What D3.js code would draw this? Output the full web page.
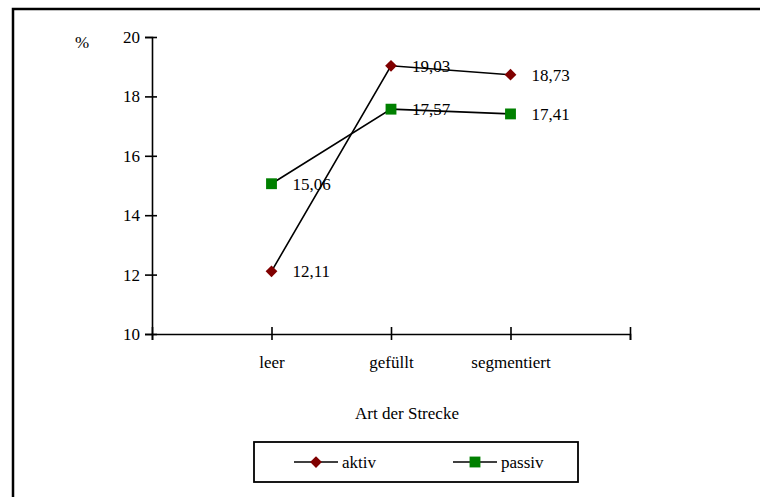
<!DOCTYPE html>
<html>
<head>
<meta charset="utf-8">
<script src="https://cdnjs.cloudflare.com/ajax/libs/d3/7.8.5/d3.min.js"></script>
<style>
  body { margin: 0; background: #fff; }
</style>
</head>
<body>
<div id="chart"></div>
<script>
// data
var categories = ["leer", "gefüllt", "segmentiert"];
var aktiv = [12.11, 19.03, 18.73];
var passiv = [15.06, 17.57, 17.41];
var yTicks = [10, 12, 14, 16, 18, 20];
var seriesNames = ["aktiv", "passiv"];

var W = 760, H = 497;
var FONT = "Liberation Serif";
var FS = "17px";

var svg = d3.select("#chart")
  .append("svg")
  .attr("width", W)
  .attr("height", H)
  .style("display", "block");

// outer frame (only left and top edges are visible)
svg.append("rect")
  .attr("x", 13)
  .attr("y", 9)
  .attr("width", 900)
  .attr("height", 700)
  .attr("fill", "none")
  .attr("stroke", "black")
  .attr("stroke-width", 2.5);

// x: categories sit on ticks 1..3, axis runs 0..4
var x = d3.scaleLinear()
  .domain([0, 4])
  .range([152, 630]);

var y = d3.scaleLinear()
  .domain([10, 20])
  .range([334, 37]);

var xAxis = d3.axisBottom(x)
  .tickValues([0, 1, 2, 3, 4])
  .tickSizeOuter(0)
  .tickSize(6)
  .tickFormat(function(d) { return categories[d - 1] || ""; });

var yAxis = d3.axisLeft(y)
  .tickValues(yTicks)
  .tickSizeOuter(0)
  .tickSize(7)
  .tickFormat(d3.format("d"));

var gx = svg.append("g")
  .attr("transform", "translate(0," + y(10) + ")")
  .call(xAxis);
gx.selectAll(".tick line").attr("y1", -7).attr("y2", 6);
gx.selectAll(".tick text").attr("y", 22);

var gy = svg.append("g")
  .attr("transform", "translate(" + x(0) + ",0)")
  .call(yAxis);
gy.selectAll(".tick line").attr("x1", 5);
gy.selectAll(".tick text").attr("x", -12);

[gx, gy].forEach(function(g) {
  g.attr("font-family", null).attr("font-size", null);
  g.selectAll("path, line").attr("stroke", "black").attr("stroke-width", 1.6);
  g.selectAll("text").attr("fill", "black");
});

// unit label
svg.append("text")
  .attr("x", 75)
  .attr("y", 48)
  .text("%");

// x axis title
svg.append("text")
  .attr("x", 407)
  .attr("y", 419)
  .attr("text-anchor", "middle")
  .text("Art der Strecke");

var line = d3.line()
  .x(function(d, i) { return x(i + 1); })
  .y(function(d) { return y(d); });

var diamond = d3.symbol().type(d3.symbolDiamond2).size(88);
var square = d3.symbol().type(d3.symbolSquare2).size(150);

function drawSeries(vals, color, sym) {
  var g = svg.append("g");
  g.append("path")
    .datum(vals)
    .attr("fill", "none")
    .attr("stroke", "black")
    .attr("stroke-width", 1.6)
    .attr("d", line);
  g.selectAll(".m")
    .data(vals)
    .enter().append("path")
    .attr("transform", function(d, i) { return "translate(" + x(i + 1) + "," + y(d) + ")"; })
    .attr("d", sym)
    .attr("fill", color);
  g.selectAll(".lbl")
    .data(vals)
    .enter().append("text")
    .attr("x", function(d, i) { return x(i + 1) + 21; })
    .attr("y", function(d) { return y(d); })
    .attr("dy", "0.35em")
    .text(function(d) { return d.toFixed(2).replace(".", ","); });
}

drawSeries(aktiv, "#800000", diamond);
drawSeries(passiv, "#008000", square);

// legend
var lg = svg.append("g");
lg.append("rect")
  .attr("x", 254)
  .attr("y", 442)
  .attr("width", 324)
  .attr("height", 40)
  .attr("fill", "none")
  .attr("stroke", "black")
  .attr("stroke-width", 1.8);

var legendItems = [
  {name: seriesNames[0], color: "#800000", sym: diamond, x0: 294},
  {name: seriesNames[1], color: "#008000", sym: square, x0: 453}
];
legendItems.forEach(function(it) {
  lg.append("line")
    .attr("x1", it.x0).attr("x2", it.x0 + 44)
    .attr("y1", 462).attr("y2", 462)
    .attr("stroke", "black").attr("stroke-width", 1.6);
  lg.append("path")
    .attr("transform", "translate(" + (it.x0 + 22) + ",462)")
    .attr("d", it.sym)
    .attr("fill", it.color);
  lg.append("text")
    .attr("x", it.x0 + 48)
    .attr("y", 462)
    .attr("dy", "0.35em")
    .text(it.name);
});

svg.selectAll("text")
  .style("font-family", FONT)
  .style("font-size", FS)
  .attr("fill", "black");
</script>
</body>
</html>
